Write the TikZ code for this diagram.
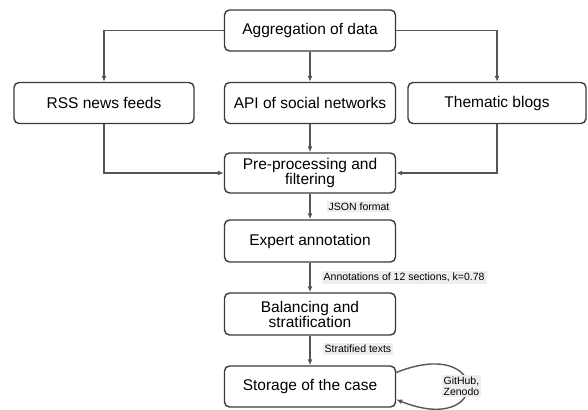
\documentclass[tikz,border=0pt]{standalone}
\usepackage{fontspec}
\setmainfont{Liberation Sans}
\usetikzlibrary{arrows.meta}
\definecolor{boxline}{HTML}{3A3A3A}
\definecolor{conn}{HTML}{555555}
\definecolor{lblfill}{HTML}{EEEEEE}
\begin{document}
\begin{tikzpicture}[x=1pt,y=1pt,
  stepbox/.style={draw=boxline, line width=1.4pt, rounded corners=5pt, fill=white,
    minimum width=171pt, minimum height=41pt, align=center, inner sep=1pt,
    font=\fontsize{15.5}{15}\selectfont},
  conn/.style={draw=conn, line width=1.4pt, -{Latex[length=6pt,width=5pt]}},
  elabel/.style={fill=lblfill, inner sep=2pt, font=\fontsize{10.5}{11}\selectfont, anchor=west}]
\useasboundingbox (0,0) rectangle (588,-409);
\node[stepbox] (agg) at (310,-30.5) {Aggregation of data};
\node[stepbox, minimum width=180pt] (rss) at (104,-103) {RSS news feeds};
\node[stepbox] (api) at (310,-103) {API of social networks};
\node[stepbox, minimum width=178pt] (blog) at (497,-103) {Thematic blogs};
\node[stepbox, minimum height=40pt] (pre) at (310,-173) {Pre-processing and\\filtering};
\node[stepbox, minimum height=42pt] (exp) at (310,-241) {Expert annotation};
\node[stepbox, minimum height=42pt] (bal) at (310,-314) {Balancing and\\stratification};
\node[stepbox, minimum height=41pt] (sto) at (310,-386.5) {Storage of the case};

\draw[conn] (agg.west) -| (rss.north);
\draw[conn] (agg.south) -- (api.north);
\draw[conn] (agg.east) -| (blog.north);
\draw[conn] (rss.south) |- (pre.west);
\draw[conn] (api.south) -- (pre.north);
\draw[conn] (blog.south) |- (pre.east);
\draw[conn] (pre.south) -- node[elabel, pos=0.5, xshift=16pt] (l1) {JSON format} (exp.north);
\draw[conn] (exp.south) -- node[elabel, pos=0.5, xshift=11pt] (l2) {Annotations of 12 sections, k=0.78} (bal.north);
\draw[conn] (bal.south) -- node[elabel, pos=0.45, xshift=12pt] (l3) {Stratified texts} (sto.north);
\draw[conn] ([yshift=14pt]sto.east) .. controls +(95,38) and +(95,-38) .. node[pos=0.5, fill=lblfill, inner sep=2pt, align=center, font=\fontsize{10.5}{11}\selectfont, xshift=-6pt] (l4) {GitHub,\\Zenodo} ([yshift=-13pt]sto.east);
\end{tikzpicture}
\end{document}
